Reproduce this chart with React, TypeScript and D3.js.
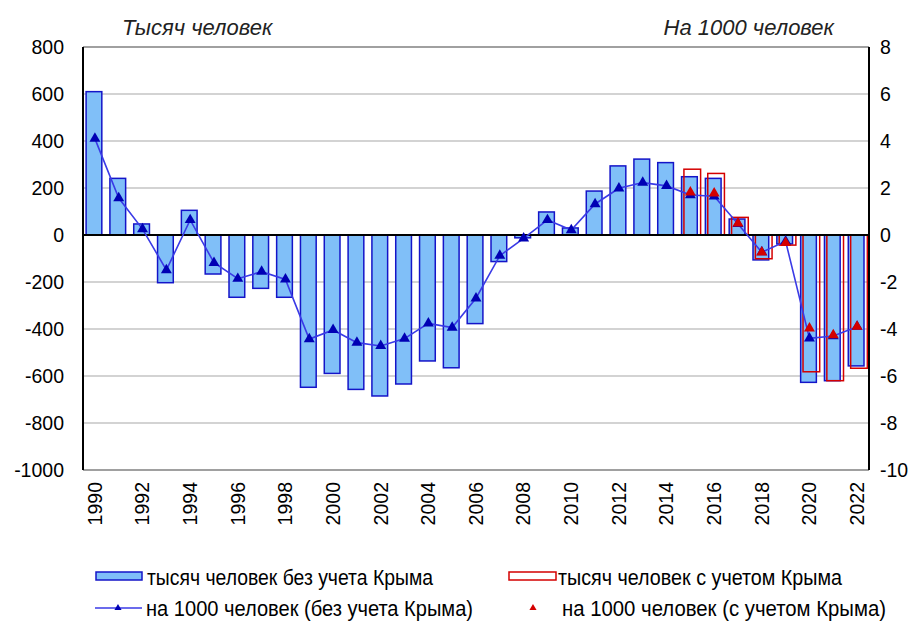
import React from 'react';
import * as d3 from 'd3';

const W = 919;
const H = 622;
const PLOT = { left: 83, right: 869, top: 47, bottom: 470 };

const years = [
  1990, 1991, 1992, 1993, 1994, 1995, 1996, 1997, 1998, 1999, 2000,
  2001, 2002, 2003, 2004, 2005, 2006, 2007, 2008, 2009, 2010, 2011,
  2012, 2013, 2014, 2015, 2016, 2017, 2018, 2019, 2020, 2021, 2022,
];
// тысяч человек без учета Крыма
const thousandsNoCrimea = [
  610, 241, 47, -203, 105, -166, -265, -227, -265, -648, -589,
  -657, -685, -634, -536, -565, -377, -113, -12, 98, 30, 187,
  294, 323, 308, 248, 241, 68, -106, -38, -627, -620, -557,
];
// на 1000 человек без учета Крыма
const rateNoCrimea = [
  4.1, 1.57, 0.25, -1.49, 0.64, -1.18, -1.86, -1.56, -1.89, -4.43, -4.04,
  -4.58, -4.72, -4.41, -3.76, -3.94, -2.69, -0.88, -0.14, 0.64, 0.21, 1.32,
  1.99, 2.23, 2.09, 1.7, 1.65, 0.47, -0.73, -0.27, -4.4, -4.3, -3.9,
];
// с учетом Крыма
const crimeaYears = [2015, 2016, 2017, 2018, 2019, 2020, 2021, 2022];
const thousandsCrimea = [280, 262, 75, -101, -43, -582, -620, -567];
const rateCrimea = [1.82, 1.77, 0.5, -0.74, -0.33, -3.97, -4.26, -3.9];

const leftTicks = [800, 600, 400, 200, 0, -200, -400, -600, -800, -1000];
const rightTicks = [8, 6, 4, 2, 0, -2, -4, -6, -8, -10];
const yearLabels = years.filter((y) => y % 2 === 0);

const FONT = 'Liberation Sans, Arial, sans-serif';
const BAR_FILL = '#80bff8';
const BAR_STROKE = '#1414c8';
const LINE_COLOR = '#3a3ae6';
const MARK_BLUE = '#0000b4';
const RED = '#d40000';

export default function App() {
  const x = d3.scaleBand<number>().domain(years).range([PLOT.left, PLOT.right]).padding(0);
  const bw = x.bandwidth();
  const cx = (yr: number) => (x(yr) as number) + bw / 2;
  const yL = d3.scaleLinear().domain([-1000, 800]).range([PLOT.bottom, PLOT.top]);
  const yR = d3.scaleLinear().domain([-10, 8]).range([PLOT.bottom, PLOT.top]);

  const tri = d3.symbol().type(d3.symbolTriangle).size(52)() as string;
  const triSmall = d3.symbol().type(d3.symbolTriangle).size(22)() as string;

  const line = d3
    .line<number>()
    .x((_, i) => cx(years[i]))
    .y((d) => yR(d));

  return (
    <div style={{ position: 'absolute', left: 0, top: 0 }}>
      <svg width={W} height={H} style={{ display: 'block', background: '#fff' }}>
        {/* grid */}
        {leftTicks.map((t) => (
          <line
            key={'g' + t}
            x1={PLOT.left}
            x2={PLOT.right}
            y1={yL(t)}
            y2={yL(t)}
            stroke={t === 800 || t === -1000 ? '#808080' : '#c4c4c4'}
            strokeWidth={1.5}
          />
        ))}

        {/* bars without Crimea */}
        {years.map((yr, i) => {
          const v = thousandsNoCrimea[i];
          return (
            <rect
              key={'b' + yr}
              x={(x(yr) as number) + bw * 0.13}
              y={Math.min(yL(v), yL(0))}
              width={bw * 0.66}
              height={Math.abs(yL(v) - yL(0))}
              fill={BAR_FILL}
              stroke={BAR_STROKE}
              strokeWidth={1.5}
            />
          );
        })}

        {/* bars with Crimea */}
        {crimeaYears.map((yr, i) => {
          const v = thousandsCrimea[i];
          return (
            <rect
              key={'r' + yr}
              x={(x(yr) as number) + bw * 0.23}
              y={Math.min(yL(v), yL(0))}
              width={bw * 0.7}
              height={Math.abs(yL(v) - yL(0))}
              fill="none"
              stroke={RED}
              strokeWidth={1.5}
            />
          );
        })}

        {/* axes */}
        <line x1={PLOT.left} x2={PLOT.right} y1={yL(0)} y2={yL(0)} stroke="#000" strokeWidth={2} />
        <line x1={PLOT.left} x2={PLOT.left} y1={PLOT.top} y2={PLOT.bottom} stroke="#000" strokeWidth={2} />
        <line x1={PLOT.right} x2={PLOT.right} y1={PLOT.top} y2={PLOT.bottom} stroke="#000" strokeWidth={2} />

        {/* rate line */}
        <path d={line(rateNoCrimea) as string} fill="none" stroke={LINE_COLOR} strokeWidth={1.6} />
        {years.map((yr, i) => (
          <path
            key={'t' + yr}
            d={tri}
            transform={`translate(${cx(yr)},${yR(rateNoCrimea[i])})`}
            fill={MARK_BLUE}
          />
        ))}
        {crimeaYears.map((yr, i) => (
          <path
            key={'tr' + yr}
            d={tri}
            transform={`translate(${cx(yr)},${yR(rateCrimea[i])})`}
            fill={RED}
          />
        ))}

        {/* left tick labels */}
        {leftTicks.map((t) => (
          <text
            key={'l' + t}
            x={64}
            y={yL(t)}
            dy="0.35em"
            textAnchor="end"
            fontFamily={FONT}
            fontSize={19.5}
            fill="#000"
          >
            {t}
          </text>
        ))}
        {/* right tick labels */}
        {rightTicks.map((t) => (
          <text
            key={'rt' + t}
            x={880}
            y={yR(t)}
            dy="0.35em"
            textAnchor="start"
            fontFamily={FONT}
            fontSize={19.5}
            fill="#000"
          >
            {t}
          </text>
        ))}
        {/* year labels */}
        {yearLabels.map((yr) => (
          <text
            key={'y' + yr}
            transform={`translate(${cx(yr)},${PLOT.bottom + 12}) rotate(-90)`}
            dy="0.35em"
            textAnchor="end"
            fontFamily={FONT}
            fontSize={19.5}
            fill="#000"
          >
            {yr}
          </text>
        ))}

        {/* titles */}
        <text x={122} y={35} fontFamily={FONT} fontSize={22} fontStyle="italic" fill="#222">
          Тысяч человек
        </text>
        <text x={834} y={35} textAnchor="end" fontFamily={FONT} fontSize={22} fontStyle="italic" fill="#222">
          На 1000 человек
        </text>

        {/* legend */}
        <rect x={96} y={572} width={46} height={8} fill={BAR_FILL} stroke={BAR_STROKE} strokeWidth={1.5} />
        <text x={147} y={577} dy="0.35em" fontFamily={FONT} fontSize={21.5} textLength={286} lengthAdjust="spacingAndGlyphs">
          тысяч человек без учета Крыма
        </text>
        <rect x={509} y={572} width={47} height={8} fill="#fff" stroke={RED} strokeWidth={1.5} />
        <text x={558} y={577} dy="0.35em" fontFamily={FONT} fontSize={21.5} textLength={284} lengthAdjust="spacingAndGlyphs">
          тысяч человек с учетом Крыма
        </text>
        <line x1={95} x2={142} y1={608} y2={608} stroke={LINE_COLOR} strokeWidth={1.6} />
        <path d={triSmall} transform="translate(118,608)" fill={MARK_BLUE} />
        <text x={146} y={608} dy="0.35em" fontFamily={FONT} fontSize={21.5} textLength={327} lengthAdjust="spacingAndGlyphs">
          на 1000 человек (без учета Крыма)
        </text>
        <path d={triSmall} transform="translate(533,608)" fill={RED} />
        <text x={562} y={608} dy="0.35em" fontFamily={FONT} fontSize={21.5} textLength={324} lengthAdjust="spacingAndGlyphs">
          на 1000 человек (с учетом Крыма)
        </text>
      </svg>
    </div>
  );
}
